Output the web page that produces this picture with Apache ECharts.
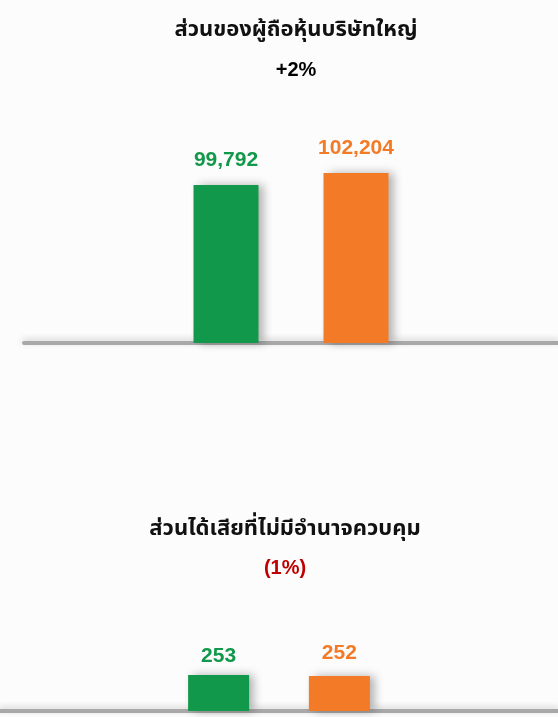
<!DOCTYPE html>
<html>
<head>
<meta charset="utf-8">
<script src="https://cdn.jsdelivr.net/npm/echarts@6/dist/echarts.min.js"></script>
<style>
  html, body { margin: 0; padding: 0; background: #fcfcfc; }
  #chart { width: 558px; height: 717px; }
</style>
</head>
<body>
<div id="chart"></div>
<script>
// ข้อมูล (ล้านบาท)
var periods = ['ปีก่อน', 'ปีนี้'];
var titles = ['ส่วนของผู้ถือหุ้นบริษัทใหญ่', 'ส่วนได้เสียที่ไม่มีอำนาจควบคุม'];
var changes = ['+2%', '(1%)'];
var parentEquity = [99792, 102204];
var nonControlling = [253, 252];

var colors = ['#12984a', '#f37b27'];
var thaiFont = 'Tahoma, "Noto Sans Thai", "Leelawadee UI", "DejaVu Sans", sans-serif';
var numFont = '"Liberation Sans", Arial, sans-serif';

var myChart = echarts.init(document.getElementById('chart'));

function barSeries(idx, vals, i, width, gap, dist) {
    return {
        name: periods[i],
        type: 'bar',
        xAxisIndex: idx,
        yAxisIndex: idx,
        data: [vals[i]],
        barWidth: width,
        barGap: gap,
        itemStyle: {
            color: colors[i],
            shadowColor: 'rgba(0,0,0,0.3)',
            shadowBlur: 9,
            shadowOffsetX: 5
        },
        label: {
            show: true,
            position: 'top',
            distance: dist,
            formatter: function (p) { return echarts.format.addCommas(p.value); },
            color: colors[i],
            fontFamily: numFont,
            fontWeight: 'bold',
            fontSize: 21
        }
    };
}

var baseLine = {
    show: true,
    lineStyle: {
        color: '#a8a8a8',
        width: 4,
        shadowColor: 'rgba(0,0,0,0.18)',
        shadowBlur: 6,
        shadowOffsetY: -2
    }
};

option = {
    backgroundColor: '#fcfcfc',
    animation: false,
    title: [
        { text: titles[0], left: 291, textAlign: 'center', top: 16, textStyle: { fontFamily: thaiFont, fontSize: 22, fontWeight: 'bold', color: '#111' } },
        { text: changes[0], left: 291, textAlign: 'center', top: 55, textStyle: { fontFamily: numFont, fontSize: 20, fontWeight: 'bold', color: '#000' } },
        { text: titles[1], left: 280, textAlign: 'center', top: 515, textStyle: { fontFamily: thaiFont, fontSize: 22, fontWeight: 'bold', color: '#111' } },
        { text: changes[1], left: 280, textAlign: 'center', top: 553, textStyle: { fontFamily: numFont, fontSize: 20, fontWeight: 'bold', color: '#c00000' } }
    ],
    grid: [
        { left: 24, right: 0, top: 84.6, bottom: 374 },
        { left: 0, right: 0, top: 628, bottom: 6 }
    ],
    xAxis: [
        { type: 'category', gridIndex: 0, data: [titles[0]], axisLine: baseLine, axisTick: { show: false }, axisLabel: { show: false } },
        { type: 'category', gridIndex: 1, data: [titles[1]], axisLine: baseLine, axisTick: { show: false }, axisLabel: { show: false } }
    ],
    yAxis: [
        { type: 'value', gridIndex: 0, min: 68000, max: 120000, show: false },
        { type: 'value', gridIndex: 1, min: 217, max: 300, show: false }
    ],
    series: [
        barSeries(0, parentEquity, 0, 65, '100%', 14),
        barSeries(0, parentEquity, 1, 65, '100%', 14),
        barSeries(1, nonControlling, 0, 61, '98%', 8),
        barSeries(1, nonControlling, 1, 61, '98%', 12)
    ]
};

myChart.setOption(option);
window.addEventListener('resize', function () {
    myChart.resize();
});
</script>
</body>
</html>
